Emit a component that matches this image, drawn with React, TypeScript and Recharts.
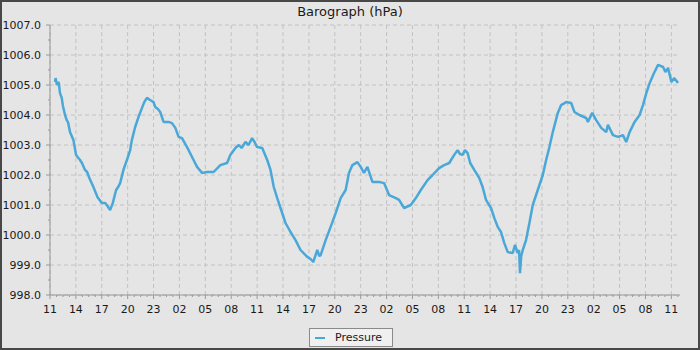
import React from 'react';
import { LineChart, Line, XAxis, YAxis, CartesianGrid } from 'recharts';

// Barograph — pressure over three days.
// x = hours since the first labelled tick (11:00), y = hPa.

const hoursSinceStart = [
  0.58, 0.65, 0.8, 1.0, 1.16, 1.36, 1.5, 1.74, 1.94, 2.1, 2.32, 2.71, 3.02, 3.2, 3.48, 3.7, 4.06, 4.3, 4.56, 5.03,
  5.49, 6.0, 6.39, 6.7, 6.97, 7.28, 7.66, 7.9, 8.13, 8.51, 8.91, 9.29, 9.49, 9.87, 10.25, 10.65, 10.92, 11.23, 11.6, 12.0,
  12.19, 12.5, 12.77, 13.16, 13.74, 14.13, 14.52, 14.9, 15.29, 15.88, 16.46, 17.04, 17.62, 18.2, 18.96, 19.74, 20.52, 20.9, 21.48, 21.87,
  22.2, 22.65, 23.0, 23.42, 23.7, 24.0, 24.59, 25.17, 25.55, 25.93, 26.33, 26.71, 27.29, 27.87, 28.45, 29.03, 29.81, 30.2, 30.51, 30.97,
  31.2, 31.36, 31.94, 32.52, 33.1, 33.68, 34.26, 34.64, 35.04, 35.62, 36.0, 36.38, 36.78, 37.36, 38.13, 38.71, 39.29, 40.07, 40.45, 41.03,
  41.81, 42.39, 42.97, 43.75, 44.33, 45.09, 45.67, 46.26, 46.84, 47.23, 47.5, 47.81, 48.08, 48.39, 48.69, 49.16, 49.74, 50.13, 50.52, 51.1,
  51.48, 51.88, 52.26, 52.64, 53.04, 53.62, 53.88, 54.19, 54.35, 54.46, 54.6, 54.78, 55.16, 55.55, 55.94, 56.52, 57.1, 57.49, 57.87, 58.26,
  58.84, 59.23, 59.81, 60.39, 60.77, 61.35, 62.13, 62.33, 62.83, 63.29, 63.87, 64.45, 64.65, 65.23, 65.81, 66.39, 66.77, 67.16, 67.74, 68.32,
  68.71, 69.1, 69.49, 69.99, 70.46, 71.04, 71.31, 71.62, 72.0, 72.31, 72.78,
];

const pressureHpa = [
  1005.1, 1005.23, 1005.0, 1005.1, 1004.73, 1004.57, 1004.3, 1004.0, 1003.83, 1003.75, 1003.43, 1003.17, 1002.67, 1002.6, 1002.5, 1002.4, 1002.17, 1002.1, 1001.9, 1001.6,
  1001.27, 1001.07, 1001.07, 1000.95, 1000.83, 1001.07, 1001.5, 1001.6, 1001.73, 1002.17, 1002.5, 1002.83, 1003.17, 1003.6, 1003.93, 1004.23, 1004.43, 1004.57, 1004.5, 1004.43,
  1004.27, 1004.2, 1004.1, 1003.77, 1003.77, 1003.73, 1003.57, 1003.27, 1003.23, 1002.93, 1002.6, 1002.27, 1002.07, 1002.1, 1002.1, 1002.33, 1002.4, 1002.67, 1002.9, 1003.0,
  1002.9, 1003.1, 1003.0, 1003.23, 1003.1, 1002.93, 1002.9, 1002.5, 1002.17, 1001.6, 1001.23, 1000.9, 1000.4, 1000.1, 999.83, 999.5, 999.27, 999.2, 999.1, 999.5,
  999.3, 999.33, 999.83, 1000.27, 1000.73, 1001.23, 1001.5, 1002.07, 1002.33, 1002.43, 1002.27, 1002.07, 1002.27, 1001.77, 1001.77, 1001.73, 1001.33, 1001.23, 1001.17, 1000.9,
  1001.0, 1001.23, 1001.5, 1001.83, 1002.0, 1002.23, 1002.33, 1002.4, 1002.67, 1002.83, 1002.7, 1002.67, 1002.83, 1002.73, 1002.4, 1002.17, 1001.9, 1001.6, 1001.17, 1000.9,
  1000.57, 1000.27, 1000.1, 999.73, 999.43, 999.4, 999.67, 999.4, 999.5, 998.73, 999.3, 999.5, 999.83, 1000.4, 1001.0, 1001.5, 1002.0, 1002.5, 1002.93, 1003.43,
  1004.07, 1004.33, 1004.43, 1004.4, 1004.1, 1004.0, 1003.9, 1003.77, 1004.07, 1003.83, 1003.57, 1003.43, 1003.67, 1003.33, 1003.27, 1003.33, 1003.1, 1003.43, 1003.77, 1004.0,
  1004.33, 1004.73, 1005.07, 1005.4, 1005.67, 1005.6, 1005.43, 1005.57, 1005.1, 1005.23, 1005.07,
];

// clock labels under every third hour
const hourLabels = [
  '11', '14', '17', '20', '23', '02', '05', '08',
  '11', '14', '17', '20', '23', '02', '05', '08',
  '11', '14', '17', '20', '23', '02', '05', '08', '11',
];

const pressureTicks = [998, 999, 1000, 1001, 1002, 1003, 1004, 1005, 1006, 1007];

const FONT = '"DejaVu Sans", sans-serif';
const LINE_COLOR = '#4aa8d8';
const AXIS_COLOR = '#999999';

const rows = hoursSinceStart.map((h, i) => ({ h, p: pressureHpa[i] }));
const majorHours = hourLabels.map((_, i) => i * 3);
// three minor ticks between each pair of labels, like the original plot
const xTicks: number[] = [];
for (let i = 0; i <= 97; i++) xTicks.push(i * 0.75);
const yTicks: number[] = [];
for (let i = 0; i <= 18; i++) yTicks.push(998 + i * 0.5);

function HourTick(props: any) {
  const { x, y, payload } = props;
  const v = payload.value as number;
  const idx = v / 3;
  const major = Number.isInteger(idx);
  return (
    <g>
      <line x1={x} y1={y} x2={x} y2={y + (major ? 4 : 2)} stroke={AXIS_COLOR} />
      {major && (
        <text x={x} y={y + 17.5} textAnchor="middle" fontSize={11} fontFamily={FONT} fill="#1a1a1a">
          {hourLabels[idx]}
        </text>
      )}
    </g>
  );
}

function PressureTick(props: any) {
  const { x, y, payload } = props;
  const v = payload.value as number;
  const major = Number.isInteger(v);
  return (
    <g>
      <line x1={x - (major ? 4 : 2)} y1={y} x2={x} y2={y} stroke={AXIS_COLOR} />
      {major && (
        <text x={x - 9} y={y + 4} textAnchor="end" fontSize={11} fontFamily={FONT} fill="#1a1a1a">
          {v.toFixed(1)}
        </text>
      )}
    </g>
  );
}

export default function App() {
  return (
    <div style={{ position: 'absolute', left: 0, top: 0, width: 700, height: 350, background: '#e5e5e5', fontFamily: FONT }}>
      <div
        style={{
          position: 'absolute',
          left: 0,
          top: 4,
          width: 700,
          textAlign: 'center',
          fontSize: 13,
          color: '#1a1a1a',
        }}
      >
        Barograph (hPa)
      </div>
      <LineChart width={700} height={350} data={rows} margin={{ top: 25, right: 20, bottom: 25, left: 0 }} style={{ position: 'absolute', left: 0, top: 0 }}>
        <CartesianGrid
          stroke="#c2c2c2"
          strokeDasharray="4 3"
          verticalValues={majorHours}
          horizontalValues={pressureTicks}
        />
        <XAxis
          dataKey="h"
          type="number"
          domain={[0, 73]}
          ticks={xTicks}
          interval={0}
          height={30}
          tickSize={0}
          tickMargin={0}
          tickLine={false}
          axisLine={{ stroke: AXIS_COLOR }}
          tick={<HourTick />}
        />
        <XAxis xAxisId="top" orientation="top" type="number" domain={[0, 73]} height={0} tick={false} tickLine={false} axisLine={{ stroke: AXIS_COLOR }} />
        <YAxis
          type="number"
          domain={[998, 1007]}
          ticks={yTicks}
          interval={0}
          width={50}
          tickSize={0}
          tickMargin={0}
          tickLine={false}
          axisLine={{ stroke: AXIS_COLOR }}
          tick={<PressureTick />}
        />
        <YAxis yAxisId="right" orientation="right" type="number" domain={[998, 1007]} width={0} tick={false} tickLine={false} axisLine={{ stroke: AXIS_COLOR }} />
        <Line
          dataKey="p"
          type="linear"
          stroke={LINE_COLOR}
          strokeWidth={2.5}
          strokeLinejoin="bevel"
          dot={false}
          isAnimationActive={false}
        />
      </LineChart>
      <div
        style={{
          position: 'absolute',
          left: 309,
          top: 328,
          width: 82,
          height: 17,
          border: '1px solid #8a8a8a',
          background: '#f0f0f0',
          fontSize: 11,
          color: '#1a1a1a',
          display: 'flex',
          alignItems: 'center',
        }}
      >
        <span style={{ width: 10, height: 2, background: LINE_COLOR, marginLeft: 5, marginRight: 10 }} />
        Pressure
      </div>
      <div
        style={{
          position: 'absolute',
          left: 0,
          top: 0,
          width: 700,
          height: 350,
          boxSizing: 'border-box',
          border: '2px solid #484848',
          pointerEvents: 'none',
        }}
      />
    </div>
  );
}
